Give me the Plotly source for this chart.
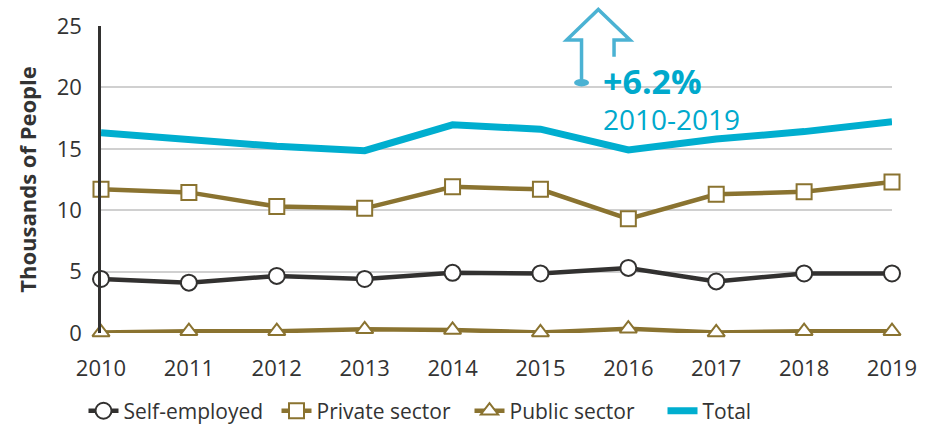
import plotly.graph_objects as go

years = [2010, 2011, 2012, 2013, 2014, 2015, 2016, 2017, 2018, 2019]
self_employed = [4.4, 4.1, 4.65, 4.4, 4.9, 4.85, 5.3, 4.2, 4.85, 4.85]
private_sector = [11.7, 11.45, 10.3, 10.15, 11.9, 11.7, 9.3, 11.3, 11.5, 12.3]
public_sector = [0.05, 0.15, 0.15, 0.3, 0.25, 0.05, 0.35, 0.05, 0.15, 0.15]
total = [16.3, 15.7, 15.2, 14.85, 16.95, 16.6, 14.9, 15.8, 16.4, 17.2]

DARK = "#323130"
OLIVE = "#8A7330"
CYAN = "#00AECF"
ARROW = "#4BB2D3"
FONT = "Open Sans"

fig = go.Figure()
fig.add_trace(go.Scatter(
    x=years, y=self_employed, name="Self-employed", mode="lines+markers",
    line=dict(color=DARK, width=4.5),
    marker=dict(symbol="circle", size=16, color="white", line=dict(color=DARK, width=2)),
    cliponaxis=False))
fig.add_trace(go.Scatter(
    x=years, y=private_sector, name="Private sector", mode="lines+markers",
    line=dict(color=OLIVE, width=4.5),
    marker=dict(symbol="square", size=15, color="white", line=dict(color=OLIVE, width=2)),
    cliponaxis=False))
fig.add_trace(go.Scatter(
    x=years, y=public_sector, name="Public sector", mode="lines+markers",
    line=dict(color=OLIVE, width=4.5),
    marker=dict(symbol="triangle-up", size=15, color="white", line=dict(color=OLIVE, width=2)),
    cliponaxis=False))
fig.add_trace(go.Scatter(
    x=years, y=total, name="Total", mode="lines",
    line=dict(color=CYAN, width=7),
    cliponaxis=False))

# outline arrow (paper coordinates)
fig.add_shape(type="path", xref="paper", yref="paper",
              path="M 0.6075 0.8155 L 0.6075 0.9544 L 0.5887 0.9544 L 0.6287 1.0541 "
                   "L 0.6688 0.9544 L 0.6486 0.9544 L 0.6486 0.9001",
              line=dict(color=ARROW, width=3.5))
fig.add_shape(type="circle", xref="paper", yref="paper",
              x0=0.5981, x1=0.6170, y0=0.8033, y1=0.8277,
              fillcolor=ARROW, line=dict(color=ARROW, width=0))

fig.add_annotation(xref="paper", yref="paper", x=0.632, y=0.822, xanchor="left", yanchor="middle",
                   text="<b>+6.2%</b>", showarrow=False, font=dict(family=FONT, size=34, color="#00A9CC"))
fig.add_annotation(xref="paper", yref="paper", x=0.632, y=0.697, xanchor="left", yanchor="middle",
                   text="2010-2019", showarrow=False, font=dict(family=FONT, size=28, color="#00A9CC"))

fig.update_layout(
    width=939, height=426,
    margin=dict(l=101, r=47, t=26, b=93, autoexpand=False),
    paper_bgcolor="white", plot_bgcolor="white",
    font=dict(family=FONT, size=22, color="#333333"),
    showlegend=True,
    legend=dict(orientation="h", xref="container", yref="container",
                x=0.5, xanchor="center", y=0.035, yanchor="middle",
                font=dict(size=21, color="#333333"), traceorder="normal",
                entrywidth=148),
    xaxis=dict(range=[2010, 2019], tickvals=years, ticktext=[str(y) for y in years],
               showgrid=False, zeroline=False, showline=False, ticks="",
               automargin=False, ticklabelstandoff=20, tickfont=dict(size=22)),
    yaxis=dict(range=[0, 25], dtick=5, showgrid=True, gridcolor="#D0D0D0", gridwidth=1.5,
               zeroline=False, showline=True, linecolor=DARK, linewidth=2.5,
               ticks="", automargin=False, ticklabelstandoff=12, tickfont=dict(size=22)),
)
fig.update_yaxes(title=dict(text="<b>Thousands of People</b>", font=dict(size=22), standoff=14))

fig.write_html("out.html", config={"displayModeBar": False},
               post_script="document.body.style.margin='0';")
